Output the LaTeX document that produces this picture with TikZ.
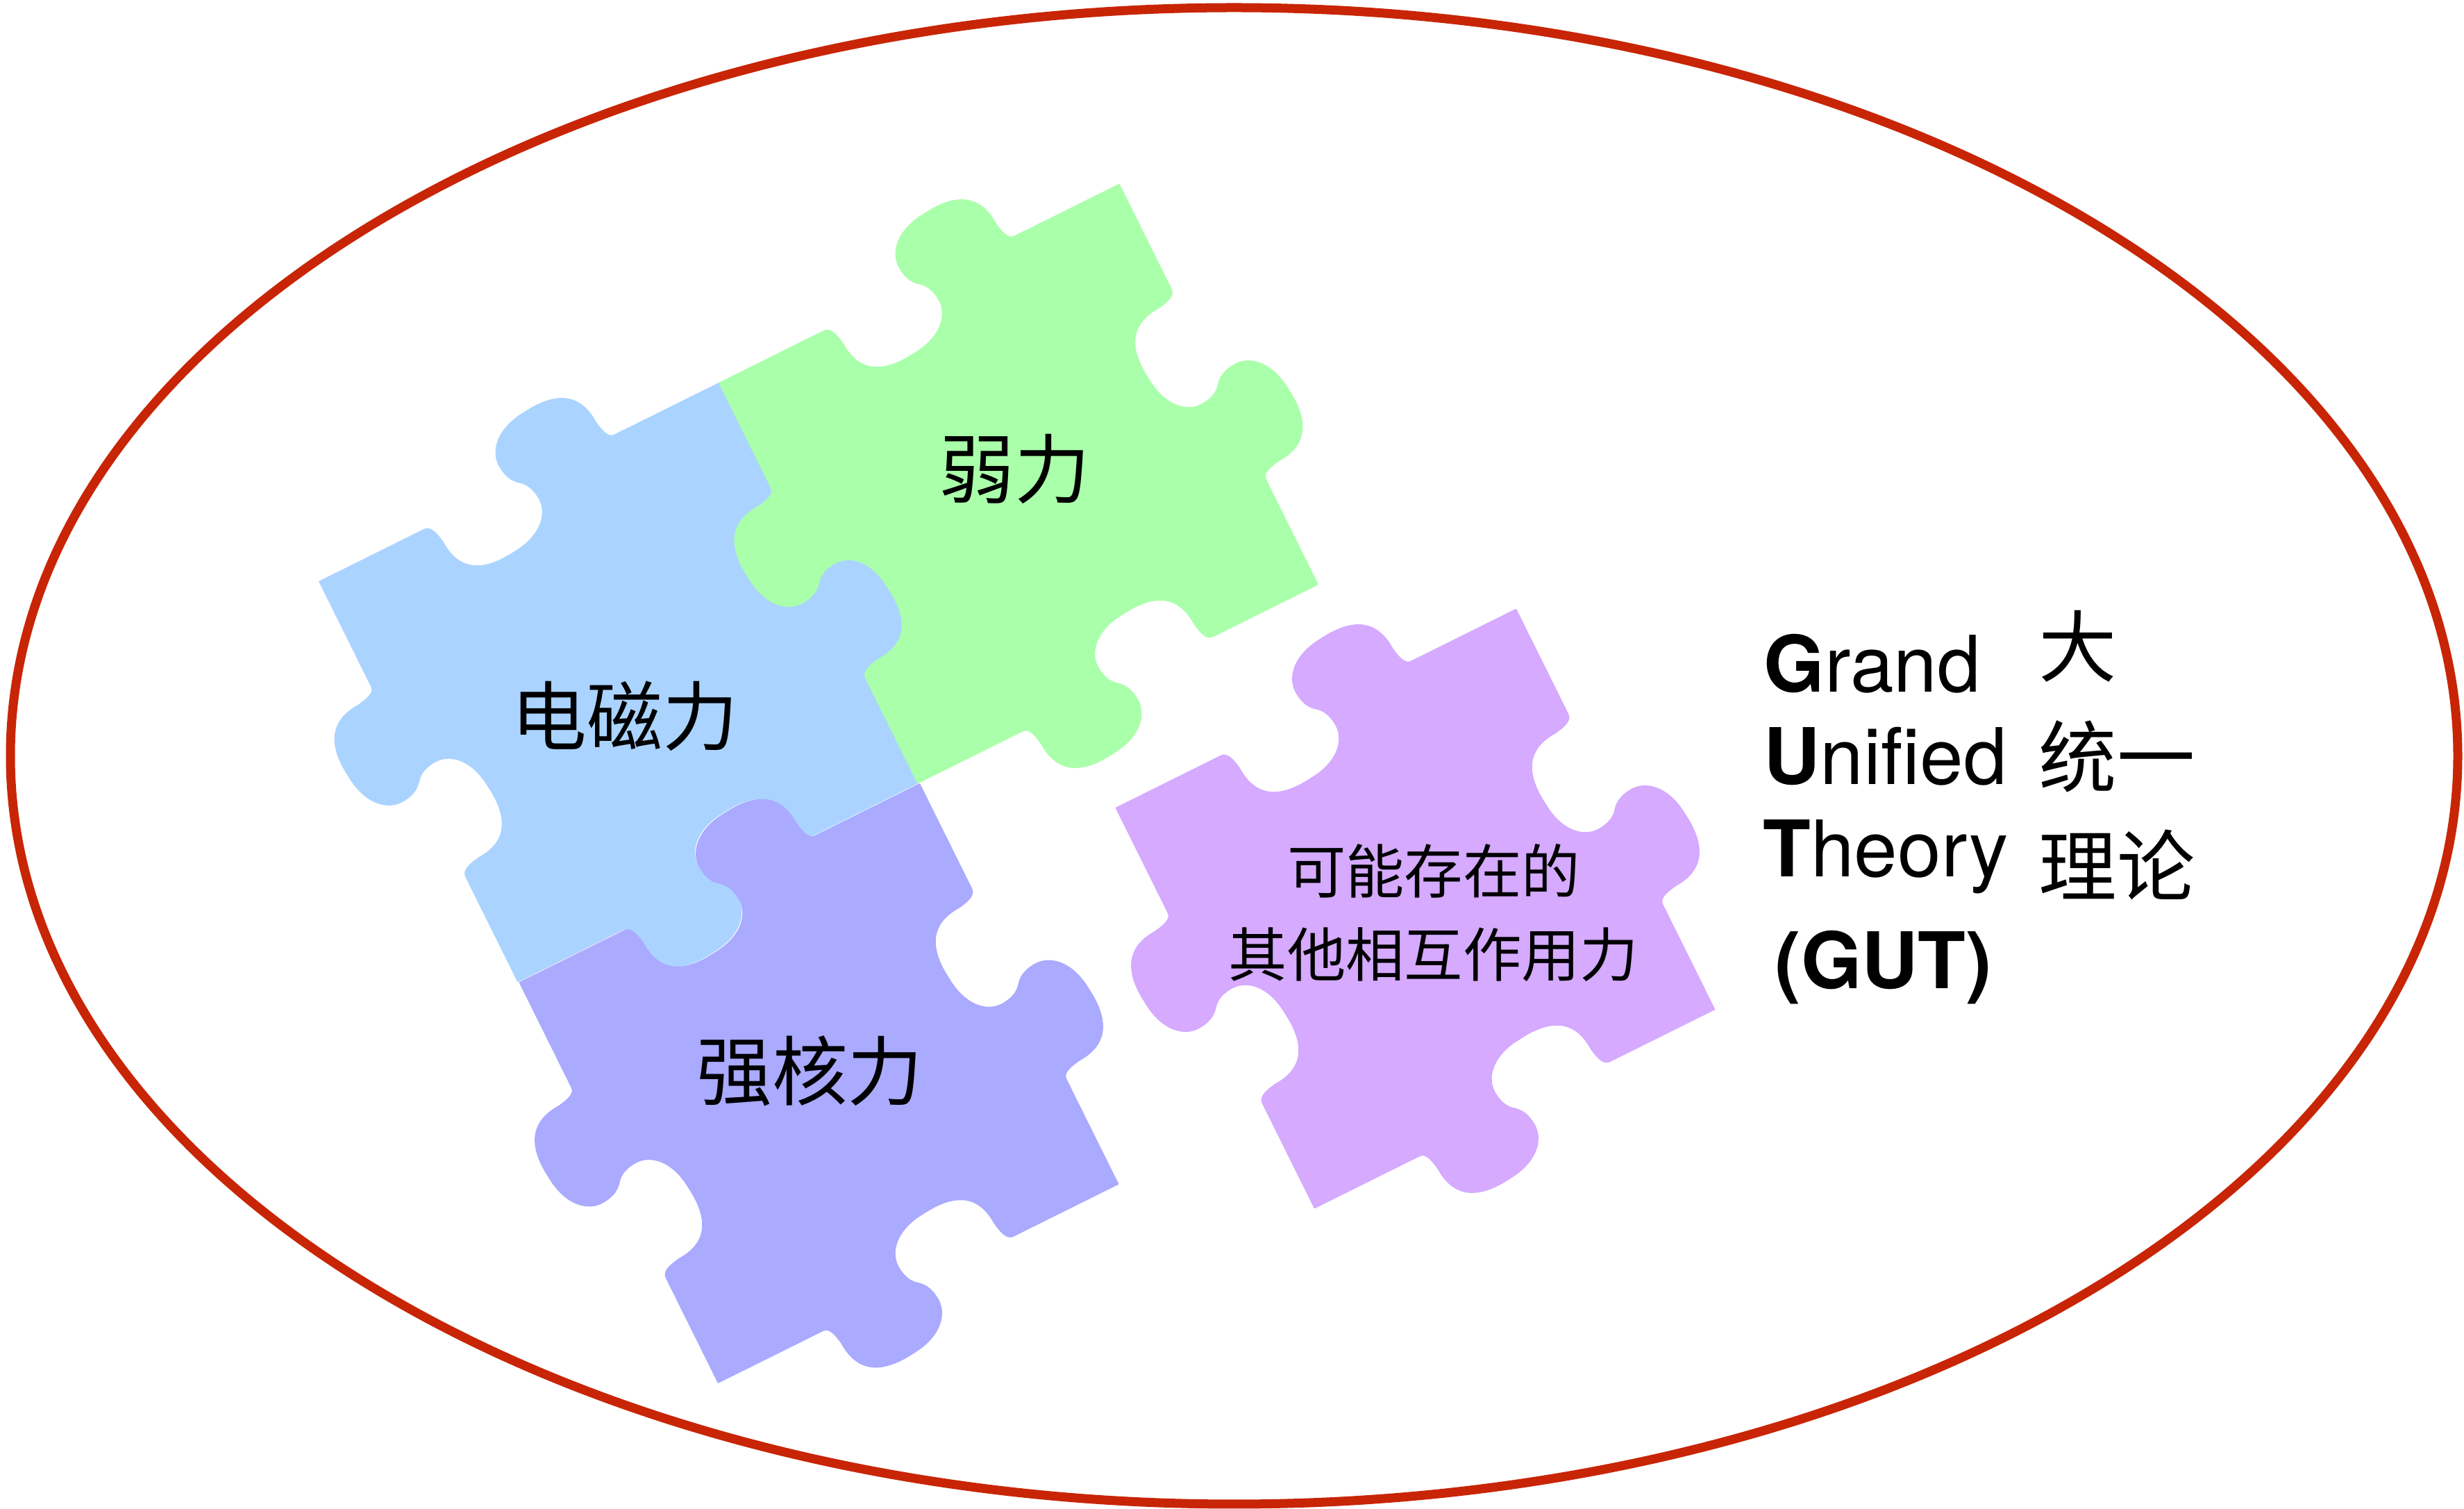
\documentclass[tikz,border=0pt]{standalone}
\usepackage{fontspec}
\setmainfont{TeX Gyre Heros}
\newfontfamily\cjk{Noto Sans CJK SC}

\definecolor{ringred}{RGB}{200,37,6}
\definecolor{emblue}{RGB}{170,212,255}
\definecolor{weakgreen}{RGB}{170,255,170}
\definecolor{strongblue}{RGB}{170,170,255}
\definecolor{othviolet}{RGB}{213,170,255}

% One side of a jigsaw piece in the unit square [-0.5,0.5]^2, running
% clockwise along the top side and turned by #1: an S-shaped cut
% (a blank first, then a tab).
\newcommand\pzside[1]{%
  -- ([rotate=#1]-0.238,0.5)
  .. controls ([rotate=#1]-0.222,0.5) and ([rotate=#1]-0.217,0.48) .. ([rotate=#1]-0.213,0.455)
  .. controls ([rotate=#1]-0.21,0.38) and ([rotate=#1]-0.16,0.355) .. ([rotate=#1]-0.08,0.365)
  .. controls ([rotate=#1]-0.01,0.37) and ([rotate=#1]0.03,0.41) .. ([rotate=#1]0.023,0.455)
  .. controls ([rotate=#1]0.02,0.48) and ([rotate=#1]0.01,0.492) .. ([rotate=#1]0,0.5)
  .. controls ([rotate=#1]-0.01,0.508) and ([rotate=#1]-0.02,0.52) .. ([rotate=#1]-0.023,0.545)
  .. controls ([rotate=#1]-0.03,0.59) and ([rotate=#1]0.01,0.63) .. ([rotate=#1]0.08,0.635)
  .. controls ([rotate=#1]0.16,0.645) and ([rotate=#1]0.21,0.62) .. ([rotate=#1]0.213,0.545)
  .. controls ([rotate=#1]0.217,0.52) and ([rotate=#1]0.222,0.5) .. ([rotate=#1]0.238,0.5)
  -- ([rotate=#1]0.5,0.5)}
\newcommand\pzpiece{(-0.5,0.5) \pzside{0} \pzside{-90} \pzside{-180} \pzside{-270} -- cycle}

\begin{document}
\begin{tikzpicture}[
  piece/.style={fill=#1, draw=#1, line width=0.5pt, line join=round, rotate=26.4, scale=6.43},
  ring/.style={draw=ringred, line width=0.13cm},
  biglabel/.style={inner sep=0pt, font=\cjk\fontsize{31}{37}\selectfont},
  smalllabel/.style={inner sep=0pt, align=center, font=\cjk\fontsize{24}{34}\selectfont},
  gutword/.style={inner sep=0pt, anchor=base west, font=\fontsize{32}{38}\selectfont},
  gutcjk/.style={inner sep=0pt, anchor=west, font=\cjk\fontsize{32}{38}\selectfont}
]
\useasboundingbox (0,0) rectangle (35.49,21.73);
\fill[white] (0,0) rectangle (35.49,21.73);

% outer ring
\draw[ring] (17.775,10.845) ellipse [x radius=17.625, y radius=10.775];

% the four puzzle pieces
\path[shift={(8.91,11.905)}, piece=emblue] \pzpiece;
\path[shift={(14.67,14.765)}, piece=weakgreen] \pzpiece;
\path[shift={(11.795,6.13)}, piece=strongblue] \pzpiece;
\path[shift={(20.385,8.645)}, piece=othviolet] \pzpiece;

% piece labels
\node[biglabel] (weak) at (14.61,14.975) {弱力};
\node[biglabel] (em) at (9.00,11.42) {电磁力};
\node[biglabel] (strong) at (11.665,6.31) {强核力};
\node[smalllabel] (other) at (20.65,8.585) {可能存在的\\其他相互作用力};

% Grand Unified Theory
\node[gutword] (grand) at (25.40,11.764) {\textbf{G}rand};
\node[gutword] (unified) at (25.40,10.436) {\textbf{U}nified};
\node[gutword] (theory) at (25.39,9.104) {\textbf{T}heory};
\node[gutword] (gut) at (25.56,7.49) {\textbf{(GUT)}};
\node[gutcjk] (da) at (29.36,12.42) {大};
\node[gutcjk] (tongyi) at (29.36,10.84) {统一};
\node[gutcjk] (lilun) at (29.36,9.27) {理论};
\end{tikzpicture}
\end{document}
